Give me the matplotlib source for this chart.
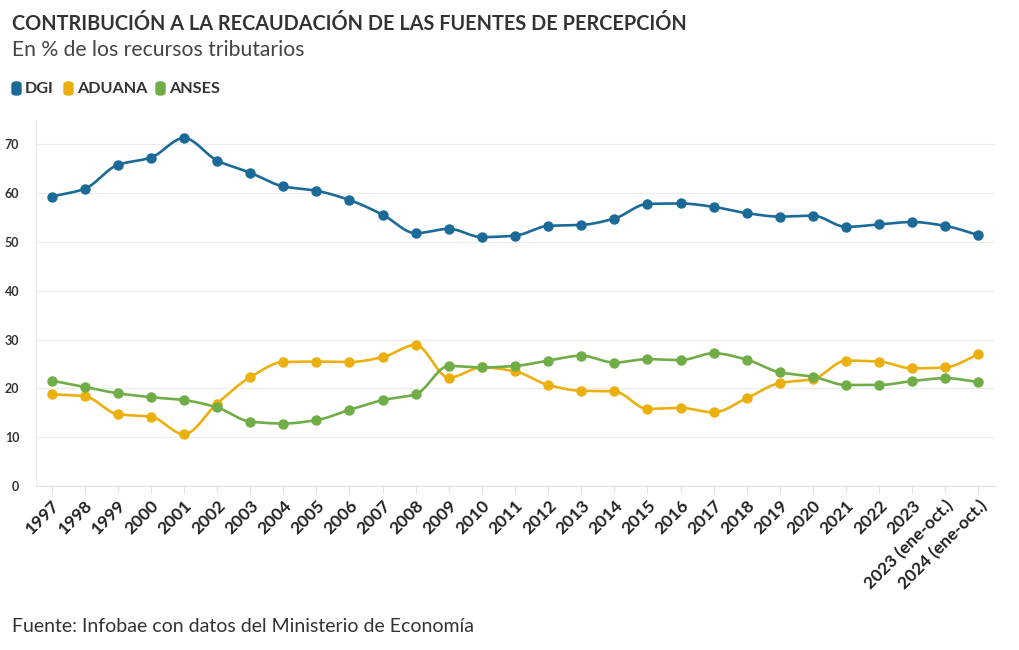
import numpy as np
import matplotlib
matplotlib.use("Agg")
import matplotlib.pyplot as plt
from matplotlib.patches import FancyBboxPatch

categories = ["1997", "1998", "1999", "2000", "2001", "2002", "2003", "2004", "2005",
              "2006", "2007", "2008", "2009", "2010", "2011", "2012", "2013", "2014",
              "2015", "2016", "2017", "2018", "2019", "2020", "2021", "2022", "2023",
              "2023 (ene-oct.)", "2024 (ene-oct.)"]
dgi = [59.3, 60.9, 65.8, 67.3, 71.3, 66.7, 64.2, 61.4, 60.5, 58.6, 55.6, 51.8, 52.7,
       51.0, 51.3, 53.3, 53.5, 54.8, 57.8, 57.9, 57.2, 55.9, 55.2, 55.4, 53.1, 53.6,
       54.1, 53.3, 51.4]
aduana = [18.8, 18.4, 14.7, 14.2, 10.6, 16.9, 22.3, 25.4, 25.5, 25.4, 26.4, 28.9, 22.2,
          24.3, 23.5, 20.7, 19.5, 19.4, 15.8, 16.0, 15.1, 18.0, 21.1, 21.9, 25.7, 25.5,
          24.1, 24.3, 27.0]
anses = [21.6, 20.3, 19.0, 18.2, 17.6, 16.1, 13.2, 12.8, 13.5, 15.6, 17.6, 18.8, 24.6,
         24.3, 24.6, 25.7, 26.7, 25.3, 26.0, 25.8, 27.2, 25.9, 23.3, 22.4, 20.7, 20.7,
         21.5, 22.1, 21.3]
series_names = ["DGI", "ADUANA", "ANSES"]
colors = ["#1b6a97", "#ecb00e", "#70ad47"]


def monotone(x, y, num=20):
    x = np.asarray(x, float); y = np.asarray(y, float)
    h = np.diff(x); d = np.diff(y) / h
    m = np.zeros_like(y)
    m[0] = d[0]; m[-1] = d[-1]
    for i in range(1, len(y) - 1):
        if d[i - 1] * d[i] <= 0:
            m[i] = 0
        else:
            w1 = 2 * h[i] + h[i - 1]; w2 = h[i] + 2 * h[i - 1]
            m[i] = (w1 + w2) / (w1 / d[i - 1] + w2 / d[i])
    xs, ys = [], []
    for i in range(len(x) - 1):
        t = np.linspace(0, 1, num, endpoint=False)
        h00 = 2 * t**3 - 3 * t**2 + 1; h10 = t**3 - 2 * t**2 + t
        h01 = -2 * t**3 + 3 * t**2; h11 = t**3 - t**2
        xs.append(x[i] + t * h[i])
        ys.append(h00 * y[i] + h10 * h[i] * m[i] + h01 * y[i + 1] + h11 * h[i] * m[i + 1])
    xs.append([x[-1]]); ys.append([y[-1]])
    return np.concatenate(xs), np.concatenate(ys)


FONT = "Lato"
plt.rcParams['font.family'] = [FONT, 'DejaVu Sans']

fig = plt.figure(figsize=(10.2, 6.5), dpi=100)
ax = fig.add_axes([36 / 1020, 1 - 486 / 650, (995 - 36) / 1020, (486 - 120) / 650])

n = len(dgi)
x = np.arange(n)
for vals, c in zip([dgi, aduana, anses], colors):
    xs, ys = monotone(x, vals)
    ax.plot(xs, ys, color=c, lw=1.9, zorder=3, solid_capstyle='round')
    ax.plot(x, vals, 'o', color=c, ms=6.5, zorder=4)

ax.set_ylim(0, 75)
ax.set_xlim(-0.47, n - 0.5)
ax.set_yticks([0, 10, 20, 30, 40, 50, 60, 70])
ax.set_yticklabels(["0", "10", "20", "30", "40", "50", "60", "70"],
                   fontsize=9, fontweight='bold', color='#333333')
ax.set_xticks(x)
ax.set_xticklabels(categories, rotation=45, ha='right', rotation_mode='anchor',
                   fontsize=12.5, fontweight='bold', color='#222222')
ax.tick_params(axis='y', length=0, pad=12)
ax.tick_params(axis='x', length=5, color='#e0e0e0', pad=3)
ax.grid(axis='y', color='#ececec', lw=0.8)
ax.set_axisbelow(True)
for s in ['top', 'right']:
    ax.spines[s].set_visible(False)
ax.spines['left'].set_color('#ececec')
ax.spines['bottom'].set_color('#e0e0e0')

fig.text(12 / 1020, 1 - 24 / 650, "CONTRIBUCIÓN A LA RECAUDACIÓN DE LAS FUENTES DE PERCEPCIÓN",
         fontsize=14.3, fontweight='bold', color='#333333', va='center', ha='left')
fig.text(12 / 1020, 1 - 50 / 650, "En % de los recursos tributarios",
         fontsize=15.2, color='#444444', va='center', ha='left')

lx = [12, 64, 156]
for name, c, px in zip(series_names, colors, lx):
    fig.patches.append(FancyBboxPatch((px / 1020, 1 - 95 / 650), 9 / 1020, 13 / 650,
                                      boxstyle="round,pad=0,rounding_size=0.004",
                                      transform=fig.transFigure, color=c))
    fig.text((px + 13) / 1020, 1 - 89 / 650, name, fontsize=11.7, fontweight='bold',
             color='#333333', va='center', ha='left')

fig.text(12 / 1020, 1 - 627 / 650, "Fuente: Infobae con datos del Ministerio de Economía",
         fontsize=14, color='#333333', va='center', ha='left')

fig.savefig("out.png", dpi=100)
